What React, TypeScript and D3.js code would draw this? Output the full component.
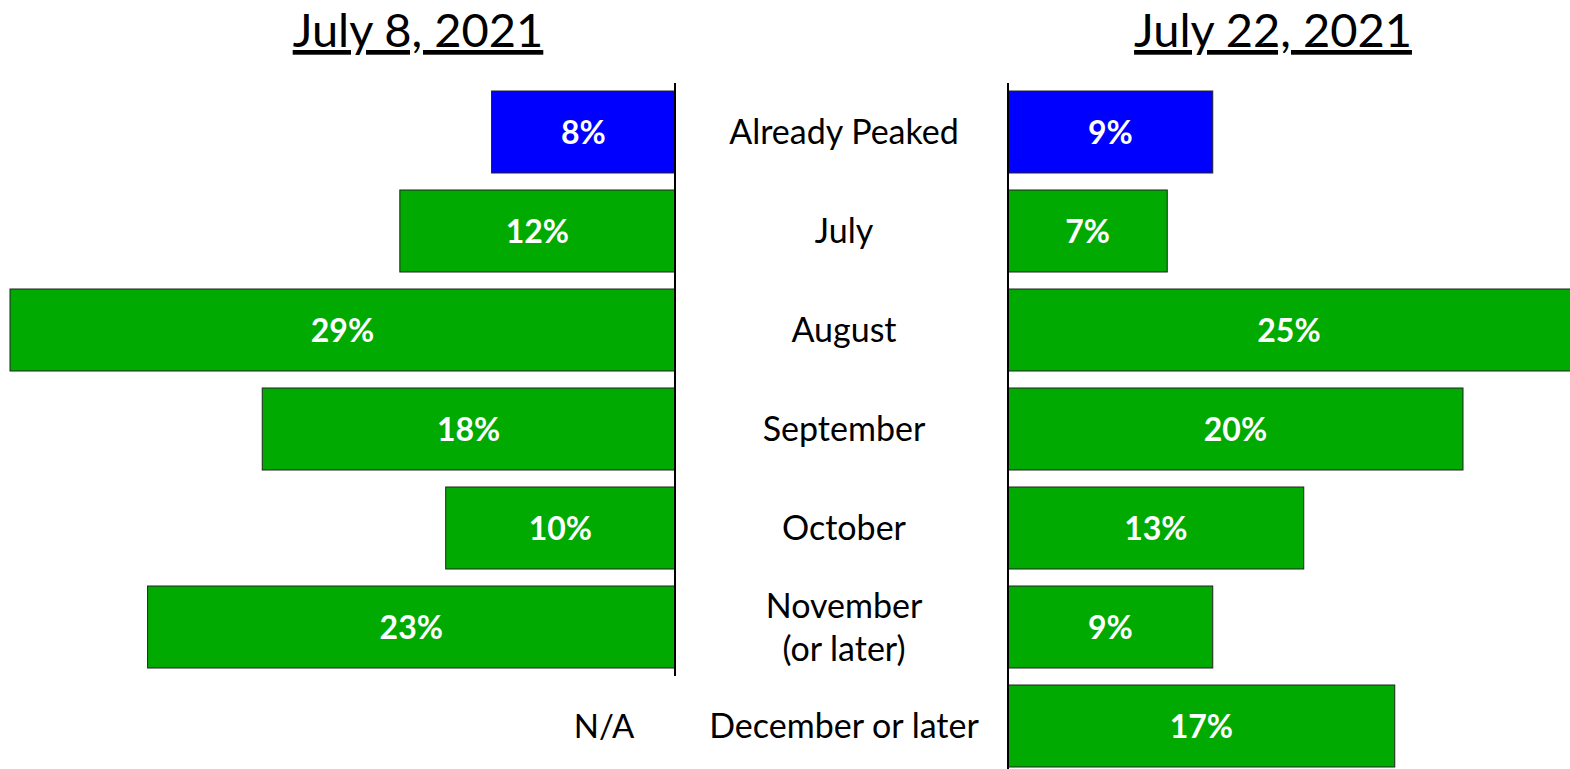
import * as d3 from 'd3';

const categories = ['Already Peaked', 'July', 'August', 'September', 'October', 'November\n(or later)', 'December or later'];
const july8Values: (number | null)[] = [8, 12, 29, 18, 10, 23, null];
const july22Values: number[] = [9, 7, 25, 20, 13, 9, 17];
const titles = ['July 8, 2021', 'July 22, 2021'];

const W = 1570;
const H = 769;
const FONT = 'Lato, "Open Sans", sans-serif';

const App = () => {
  const y = d3
    .scaleBand<number>()
    .domain(d3.range(categories.length))
    .range([82.5, 82.5 + 99 * categories.length])
    .paddingInner(17 / 99)
    .paddingOuter(17 / 99 / 2);

  const leftZero = 675;
  const rightZero = 1008;
  const xLeft = d3.scaleLinear().domain([0, 29]).range([leftZero, 10]);
  const xRight = d3.scaleLinear().domain([0, 20]).range([rightZero, 1463]);

  const fill = (i: number) => (i === 0 ? '#0000ff' : '#00aa00');
  const labelX = 844;

  return (
    <svg width={W} height={H} style={{ position: 'absolute', left: 0, top: 0, background: '#fff' }} fontFamily={FONT}>
      {/* titles */}
      <text x={418} y={47} textAnchor="middle" fontSize={47} textDecoration="underline" fill="#000">
        {titles[0]}
      </text>
      <text x={1273} y={47} textAnchor="middle" fontSize={47} textDecoration="underline" fill="#000">
        {titles[1]}
      </text>

      {/* left bars */}
      <g>
        {july8Values.map((v, i) => {
          const cy = (y(i) as number) + y.bandwidth() / 2;
          if (v == null) {
            return (
              <text key={i} x={604} y={cy} dy="0.36em" textAnchor="middle" fontSize={33} fill="#000">
                N/A
              </text>
            );
          }
          const x0 = xLeft(v);
          return (
            <g key={i}>
              <rect x={x0} y={y(i)} width={leftZero - x0} height={y.bandwidth()} fill={fill(i)} stroke="#222" strokeWidth={1} />
              <text x={(x0 + leftZero) / 2} y={cy} dy="0.36em" textAnchor="middle" fontSize={32} fontWeight="bold" fill="#fff">
                {v}%
              </text>
            </g>
          );
        })}
        <line x1={leftZero} x2={leftZero} y1={83} y2={676} stroke="#000" strokeWidth={2} />
      </g>

      {/* right bars */}
      <g>
        {july22Values.map((v, i) => {
          const cy = (y(i) as number) + y.bandwidth() / 2;
          const x1 = xRight(v);
          return (
            <g key={i}>
              <rect x={rightZero} y={y(i)} width={x1 - rightZero} height={y.bandwidth()} fill={fill(i)} stroke="#222" strokeWidth={1} />
              <text x={(rightZero + Math.min(x1, W)) / 2} y={cy} dy="0.36em" textAnchor="middle" fontSize={32} fontWeight="bold" fill="#fff">
                {v}%
              </text>
            </g>
          );
        })}
        <line x1={rightZero} x2={rightZero} y1={83} y2={H} stroke="#000" strokeWidth={2} />
      </g>

      {/* category labels */}
      {categories.map((c, i) => {
        const cy = (y(i) as number) + y.bandwidth() / 2;
        const lines = c.split('\n');
        return (
          <text key={i} x={labelX} y={cy} textAnchor="middle" fontSize={34} fill="#000">
            {lines.map((l, j) => (
              <tspan key={j} x={labelX} dy={j === 0 ? `${0.36 - ((lines.length - 1) * 1.26) / 2}em` : '1.26em'}>
                {l}
              </tspan>
            ))}
          </text>
        );
      })}
    </svg>
  );
};

export default App;
